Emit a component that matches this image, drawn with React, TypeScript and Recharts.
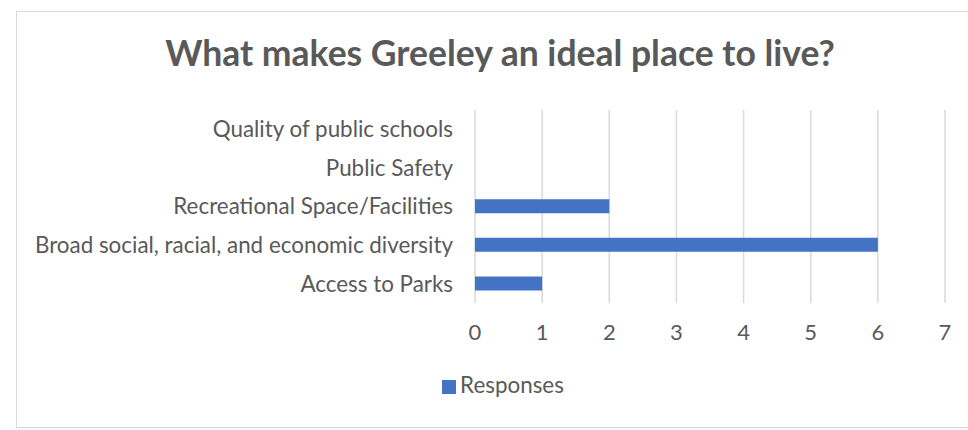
import React from 'react';
import { BarChart, Bar, XAxis, YAxis, CartesianGrid, Legend } from 'recharts';

const categories = [
    'Quality of public schools',
    'Public Safety',
    'Recreational Space/Facilities',
    'Broad social, racial, and economic diversity',
    'Access to Parks',
];
const responses = [0, 0, 2, 6, 1];
const xTicks = [0, 1, 2, 3, 4, 5, 6, 7];

const FONT = 'Lato, "Open Sans", sans-serif';
const TEXT = '#595959';

const data = categories.map((name, i) => ({ name, Responses: responses[i] }));

const App: React.FC = () => {
    return (
        <div style={{ position: 'absolute', left: 0, top: 0, width: 968, height: 430, background: '#fff', overflow: 'hidden' }}>
            <div style={{ position: 'absolute', left: 16, top: 11, width: 1000, height: 415, border: '1.5px solid #d9d9d9' }} />
            <div
                style={{
                    position: 'absolute', left: 16, top: 32, width: 968, textAlign: 'center',
                    fontFamily: FONT, fontWeight: 700, fontSize: 35.5, color: TEXT, lineHeight: 1.2,
                }}
            >
                What makes Greeley an ideal place to live?
            </div>
            <div style={{ position: 'absolute', left: 0, top: 0 }}>
                <BarChart
                    width={968}
                    height={430}
                    data={data}
                    layout="vertical"
                    margin={{ top: 110, right: 23, left: 0, bottom: 50 }}
                    barCategoryGap={0}
                >
                    <CartesianGrid horizontal={false} stroke="#d9d9d9" strokeWidth={1.5} />
                    <XAxis
                        type="number"
                        domain={[0, 7]}
                        ticks={xTicks}
                        axisLine={false}
                        tickLine={false}
                        tickMargin={15}
                        height={50}
                        tick={{ fill: TEXT, fontSize: 22, fontFamily: FONT }}
                    />
                    <YAxis
                        type="category"
                        dataKey="name"
                        width={475}
                        axisLine={false}
                        tickLine={false}
                        tickMargin={16}
                        interval={0}
                        tick={{ fill: TEXT, fontSize: 22.4, fontFamily: FONT }}
                    />
                    <Legend
                        verticalAlign="bottom"
                        align="center"
                        iconType="square"
                        iconSize={14}
                        wrapperStyle={{ top: 371, left: 24, width: 968, fontFamily: FONT, fontSize: 22.4 }}
                        formatter={(value) => <span style={{ color: TEXT }}>{value}</span>}
                    />
                    <Bar dataKey="Responses" fill="#4472c4" barSize={14} isAnimationActive={false} />
                </BarChart>
            </div>
        </div>
    );
};

export default App;
